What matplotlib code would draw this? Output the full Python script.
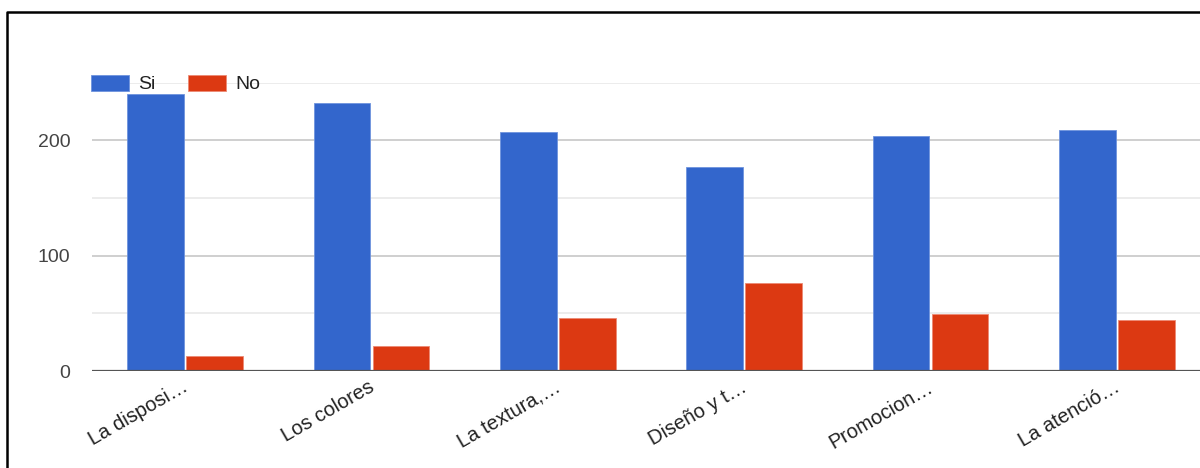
import numpy as np
import matplotlib
matplotlib.use("Agg")
import matplotlib.pyplot as plt
import matplotlib.transforms as mtransforms
from matplotlib.lines import Line2D

plt.rcParams['font.family'] = ['Liberation Sans', 'DejaVu Sans']

categories = ["La disposi…", "Los colores", "La textura,…", "Diseño y t…", "Promocion…", "La atenció…"]
si_values = [240, 232, 207, 177, 204, 209]
no_values = [13, 22, 46, 76, 49, 44]
series_names = ["Si", "No"]
y_ticks = [0, 100, 200]

BLUE = "#3366cc"
RED = "#dc3912"

W, H = 1200, 468
fig = plt.figure(figsize=(W / 100, H / 100), dpi=100)

# axes placed in pixel terms; right edge runs past the figure (cropped like the source)
left, right = 92, 1210
bottom, top = 371, 82.7
ax = fig.add_axes([left / W, (H - bottom) / H, (right - left) / W, (bottom - top) / H])

x = np.arange(len(categories))
bw = 0.305
off = 0.158
ax.bar(x - off, si_values, width=bw, color=BLUE, edgecolor="#6f93dd", linewidth=0.6,
       label=series_names[0], zorder=3)
ax.bar(x + off, no_values, width=bw, color=RED, edgecolor="#ec8a74", linewidth=0.6,
       label=series_names[1], zorder=3)

ax.set_xlim(-0.5, len(categories) - 0.5)
ax.set_ylim(0, 250)

# gridlines
for v in [50, 150, 250]:
    ax.axhline(v, color="#ebebeb", linewidth=1.3, zorder=1)
for v in [100, 200]:
    ax.axhline(v, color="#cccccc", linewidth=1.3, zorder=1)
ax.axhline(0, color="#555555", linewidth=1.6, zorder=4)

for s in ax.spines.values():
    s.set_visible(False)

ax.set_yticks(y_ticks)
ax.set_yticklabels([str(v) for v in y_ticks])
ax.tick_params(axis="y", length=0, pad=15.5, labelsize=14, labelcolor="#444444")

ax.set_xticks(x)
ax.set_xticklabels(categories)
ax.tick_params(axis="x", length=0, pad=14, labelsize=14.5, labelcolor="#222222")
shift = mtransforms.ScaledTranslation(4 / 100, 0, fig.dpi_scale_trans)
for lab in ax.get_xticklabels():
    lab.set_rotation(30)
    lab.set_ha("right")
    lab.set_va("baseline")
    lab.set_rotation_mode("anchor")
    lab.set_transform(lab.get_transform() + shift)

fig.legend(loc="center left", bbox_to_anchor=(91 / W, (H - 84) / H), ncol=2,
           frameon=False, fontsize=14, borderpad=0, borderaxespad=0,
           handlelength=1.96, handleheight=0.93, handletextpad=0.45,
           columnspacing=1.7, labelcolor="#222222")

# black frame (top and left edges visible in the source crop)
fig.add_artist(Line2D([7 / W, 7 / W, 1.0], [0.0, (H - 12) / H, (H - 12) / H],
                      transform=fig.transFigure, color="black", linewidth=1.8))

fig.savefig("out.png", dpi=100, facecolor="white")
